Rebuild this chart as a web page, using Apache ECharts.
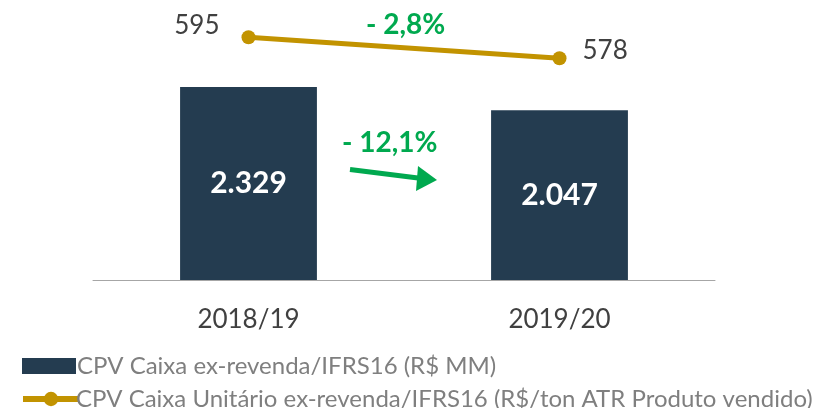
<!DOCTYPE html>
<html>
<head>
<meta charset="utf-8">
<script src="https://cdn.jsdelivr.net/npm/echarts@6/dist/echarts.min.js"></script>
<style>
  html, body { margin: 0; padding: 0; background: #fff; }
  #chart { width: 823px; height: 408px; }
</style>
</head>
<body>
<div id="chart"></div>
<script>
// dados
const categories = ['2018/19', '2019/20'];
const barName = 'CPV Caixa ex-revenda/IFRS16 (R$ MM)';
const barValues = [2329, 2047];
const lineName = 'CPV Caixa Unitário ex-revenda/IFRS16 (R$/ton ATR Produto vendido)';
const lineValues = [595, 578];
const barChange = '- 12,1%';
const lineChange = '- 2,8%';

const navy = '#243C50';
const gold = '#C29300';
const green = '#00A94F';
const font = 'Lato';

const fmtThousands = v => String(v).replace(/\B(?=(\d{3})+(?!\d))/g, '.');

const legendText = { fontSize: 24, color: '#7F7F7F', fontFamily: font, padding: [0, 0, 0, -4] };

const option = {
  animation: false,
  textStyle: { fontFamily: font },
  grid: { left: 93, right: 108, top: 20, bottom: 128 },
  legend: [
    {
      left: 17, top: 349,
      itemWidth: 54, itemHeight: 16,
      textStyle: legendText,
      data: [{ name: barName, icon: 'rect' }]
    },
    {
      left: 15, top: 382,
      itemWidth: 56, itemHeight: 18,
      textStyle: Object.assign({}, legendText, { padding: [0, 0, 0, -8] }),
      data: [{ name: lineName, lineStyle: { width: 6 } }]
    }
  ],
  xAxis: {
    type: 'category',
    data: categories,
    axisTick: { show: false },
    axisLine: { lineStyle: { color: '#A6A6A6', width: 1 } },
    axisLabel: { fontSize: 26, color: '#404040', margin: 27 }
  },
  yAxis: [
    { type: 'value', min: 0, max: 3137, show: false, splitLine: { show: false } },
    { type: 'value', min: 398, max: 609, show: false, splitLine: { show: false } }
  ],
  series: [
    {
      name: barName,
      type: 'bar',
      yAxisIndex: 0,
      barWidth: '44%',
      itemStyle: { color: navy },
      label: {
        show: true,
        position: 'inside',
        color: '#fff',
        fontSize: 30,
        fontWeight: 'bold',
        formatter: p => fmtThousands(p.value)
      },
      data: barValues
    },
    {
      name: lineName,
      type: 'line',
      yAxisIndex: 1,
      symbol: 'circle',
      symbolSize: 14,
      lineStyle: { color: gold, width: 5 },
      itemStyle: { color: gold },
      label: { show: true, fontSize: 26, color: '#404040' },
      data: [
        { value: lineValues[0], label: { position: 'left', distance: 22, offset: [0, -12] } },
        { value: lineValues[1], label: { position: 'right', distance: 16, offset: [0, -8] } }
      ]
    }
  ],
  graphic: [
    {
      type: 'text',
      left: 342, top: 129,
      style: { text: barChange, fill: green, font: 'bold 28px ' + font }
    },
    {
      type: 'text',
      left: 366, top: 11,
      style: { text: lineChange, fill: green, font: 'bold 28px ' + font }
    },
    {
      type: 'line',
      shape: { x1: 350, y1: 169.5, x2: 422, y2: 178.5 },
      style: { stroke: green, lineWidth: 5 }
    },
    {
      type: 'polygon',
      shape: { points: [[418, 166], [437, 180], [416, 191]] },
      style: { fill: green }
    }
  ]
};

const chart = echarts.init(document.getElementById('chart'), null, { renderer: 'canvas' });
chart.setOption(option);
</script>
</body>
</html>
